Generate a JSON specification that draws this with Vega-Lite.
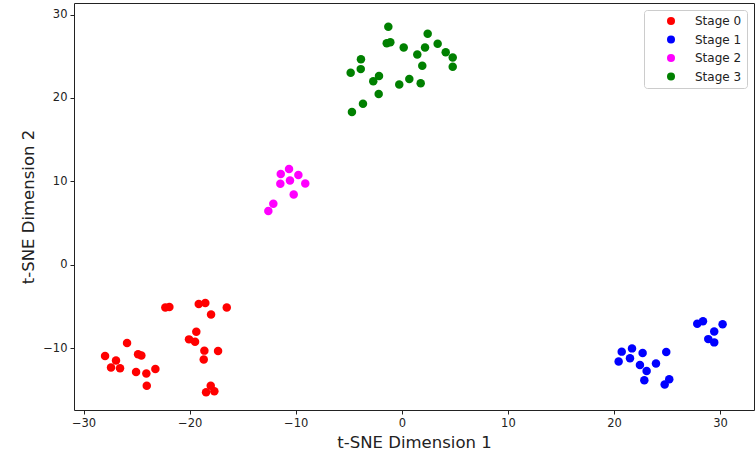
{
  "$schema": "https://vega.github.io/schema/vega-lite/v6.json",
  "width": 680,
  "height": 407,
  "autosize": {"type": "none"},
  "padding": {"left": 74, "top": 3, "right": 1, "bottom": 43},
  "background": "white",
  "config": {
    "font": "DejaVu Sans",
    "view": {"stroke": "#222222", "strokeWidth": 1}
  },
  "data": {
    "values": [
      {"x": -27.97, "y": -10.95, "stage": "Stage 0"},
      {"x": -26.94, "y": -11.5, "stage": "Stage 0"},
      {"x": -27.41, "y": -12.33, "stage": "Stage 0"},
      {"x": -26.56, "y": -12.42, "stage": "Stage 0"},
      {"x": -25.9, "y": -9.4, "stage": "Stage 0"},
      {"x": -24.86, "y": -10.75, "stage": "Stage 0"},
      {"x": -24.55, "y": -10.9, "stage": "Stage 0"},
      {"x": -25.05, "y": -12.86, "stage": "Stage 0"},
      {"x": -24.08, "y": -13.05, "stage": "Stage 0"},
      {"x": -23.23, "y": -12.5, "stage": "Stage 0"},
      {"x": -24.04, "y": -14.52, "stage": "Stage 0"},
      {"x": -22.29, "y": -5.15, "stage": "Stage 0"},
      {"x": -21.91, "y": -5.07, "stage": "Stage 0"},
      {"x": -19.14, "y": -4.71, "stage": "Stage 0"},
      {"x": -18.52, "y": -4.6, "stage": "Stage 0"},
      {"x": -17.98, "y": -5.99, "stage": "Stage 0"},
      {"x": -16.5, "y": -5.15, "stage": "Stage 0"},
      {"x": -19.37, "y": -8.05, "stage": "Stage 0"},
      {"x": -20.06, "y": -8.96, "stage": "Stage 0"},
      {"x": -19.49, "y": -9.24, "stage": "Stage 0"},
      {"x": -18.61, "y": -10.31, "stage": "Stage 0"},
      {"x": -17.32, "y": -10.36, "stage": "Stage 0"},
      {"x": -18.67, "y": -11.38, "stage": "Stage 0"},
      {"x": -18.01, "y": -14.52, "stage": "Stage 0"},
      {"x": -18.45, "y": -15.31, "stage": "Stage 0"},
      {"x": -17.67, "y": -15.19, "stage": "Stage 0"},
      {"x": 27.85, "y": -7.1, "stage": "Stage 1"},
      {"x": 28.39, "y": -6.79, "stage": "Stage 1"},
      {"x": 30.24, "y": -7.14, "stage": "Stage 1"},
      {"x": 29.45, "y": -8.01, "stage": "Stage 1"},
      {"x": 28.89, "y": -8.93, "stage": "Stage 1"},
      {"x": 29.45, "y": -9.32, "stage": "Stage 1"},
      {"x": 20.73, "y": -10.43, "stage": "Stage 1"},
      {"x": 21.7, "y": -10.04, "stage": "Stage 1"},
      {"x": 22.7, "y": -10.6, "stage": "Stage 1"},
      {"x": 24.93, "y": -10.48, "stage": "Stage 1"},
      {"x": 20.44, "y": -11.62, "stage": "Stage 1"},
      {"x": 21.51, "y": -11.23, "stage": "Stage 1"},
      {"x": 22.45, "y": -12.02, "stage": "Stage 1"},
      {"x": 23.96, "y": -11.86, "stage": "Stage 1"},
      {"x": 23.08, "y": -12.74, "stage": "Stage 1"},
      {"x": 22.86, "y": -13.85, "stage": "Stage 1"},
      {"x": 25.21, "y": -13.73, "stage": "Stage 1"},
      {"x": 24.78, "y": -14.36, "stage": "Stage 1"},
      {"x": -10.63, "y": 11.48, "stage": "Stage 2"},
      {"x": -11.41, "y": 10.88, "stage": "Stage 2"},
      {"x": -9.75, "y": 10.76, "stage": "Stage 2"},
      {"x": -11.45, "y": 9.69, "stage": "Stage 2"},
      {"x": -10.54, "y": 10.08, "stage": "Stage 2"},
      {"x": -9.1, "y": 9.73, "stage": "Stage 2"},
      {"x": -10.19, "y": 8.42, "stage": "Stage 2"},
      {"x": -12.11, "y": 7.31, "stage": "Stage 2"},
      {"x": -12.58, "y": 6.43, "stage": "Stage 2"},
      {"x": -1.27, "y": 28.54, "stage": "Stage 3"},
      {"x": 2.44, "y": 27.7, "stage": "Stage 3"},
      {"x": -1.42, "y": 26.55, "stage": "Stage 3"},
      {"x": -1.08, "y": 26.67, "stage": "Stage 3"},
      {"x": 0.18, "y": 26.04, "stage": "Stage 3"},
      {"x": 3.38, "y": 26.48, "stage": "Stage 3"},
      {"x": 2.19, "y": 26.04, "stage": "Stage 3"},
      {"x": 1.46, "y": 25.2, "stage": "Stage 3"},
      {"x": 4.14, "y": 25.48, "stage": "Stage 3"},
      {"x": 4.8, "y": 24.85, "stage": "Stage 3"},
      {"x": 4.8, "y": 23.74, "stage": "Stage 3"},
      {"x": 1.93, "y": 23.86, "stage": "Stage 3"},
      {"x": -3.85, "y": 24.64, "stage": "Stage 3"},
      {"x": -3.87, "y": 23.45, "stage": "Stage 3"},
      {"x": -4.82, "y": 23.02, "stage": "Stage 3"},
      {"x": -2.15, "y": 22.62, "stage": "Stage 3"},
      {"x": -2.69, "y": 21.99, "stage": "Stage 3"},
      {"x": 0.71, "y": 22.26, "stage": "Stage 3"},
      {"x": -0.24, "y": 21.6, "stage": "Stage 3"},
      {"x": 1.78, "y": 21.75, "stage": "Stage 3"},
      {"x": -2.18, "y": 20.48, "stage": "Stage 3"},
      {"x": -3.66, "y": 19.29, "stage": "Stage 3"},
      {"x": -4.7, "y": 18.3, "stage": "Stage 3"}
    ]
  },
  "mark": {"type": "point", "filled": true, "opacity": 1, "size": 72, "shape": "circle"},
  "encoding": {
    "x": {
      "field": "x", "type": "quantitative",
      "scale": {"domain": [-30.9, 33.2], "nice": false, "zero": false},
      "axis": {
        "title": "t-SNE Dimension 1", "values": [-30, -20, -10, 0, 10, 20, 30],
        "grid": false, "domain": false, "tickColor": "#222222", "tickSize": 4,
        "labelFontSize": 11.5, "labelColor": "#222222", "labelPadding": 3,
        "titleFontSize": 16.5, "titleFontWeight": "normal", "titleColor": "#222222", "titlePadding": 6
      }
    },
    "y": {
      "field": "y", "type": "quantitative",
      "scale": {"domain": [-17.43, 31.38], "nice": false, "zero": false},
      "axis": {
        "title": "t-SNE Dimension 2", "values": [-10, 0, 10, 20, 30],
        "grid": false, "domain": false, "tickColor": "#222222", "tickSize": 4,
        "labelFontSize": 11.5, "labelColor": "#222222", "labelPadding": 3,
        "titleFontSize": 16.5, "titleFontWeight": "normal", "titleColor": "#222222", "titlePadding": 6
      }
    },
    "color": {
      "field": "stage", "type": "nominal",
      "scale": {"domain": ["Stage 0", "Stage 1", "Stage 2", "Stage 3"], "range": ["#ff0000", "#0000ff", "#ff00ff", "#008000"]},
      "legend": {
        "title": null, "orient": "top-right", "offset": 7,
        "fillColor": "white", "strokeColor": "#cccccc", "cornerRadius": 3,
        "padding": 5, "rowPadding": 6.5, "symbolType": "circle", "symbolSize": 64,
        "symbolOffset": 16,
        "labelFontSize": 12, "labelColor": "#222222", "labelOffset": 18
      }
    }
  }
}
